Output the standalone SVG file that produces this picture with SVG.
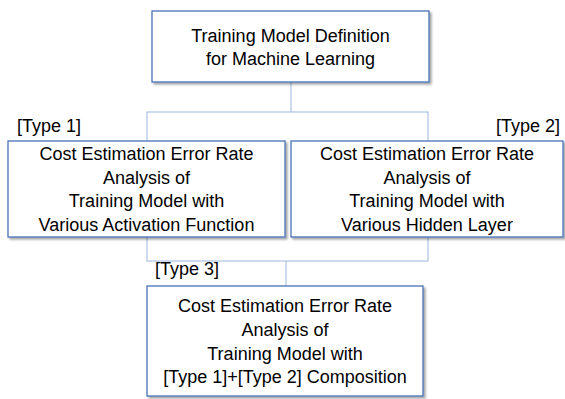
<svg xmlns="http://www.w3.org/2000/svg" width="565" height="399" viewBox="0 0 565 399">
<defs>
<filter id="sh" x="-5%" y="-5%" width="115%" height="120%">
<feDropShadow dx="2" dy="2" stdDeviation="1.2" flood-color="#000" flood-opacity="0.35"/>
</filter>
</defs>
<style>
.box{fill:#fff;stroke:#4a72b8;stroke-width:1.3;filter:url(#sh)}
.con{fill:none;stroke:#9db5dc;stroke-width:1}
text{font-family:"Liberation Sans",Arial,sans-serif;font-size:18px;fill:#000}
.c{text-anchor:middle}
</style>
<g id="connectors">
<line class="con" x1="291" y1="82" x2="291" y2="112"/>
<rect class="con" x="147" y="112" width="281" height="149"/>
<line class="con" x1="286" y1="261" x2="286" y2="286"/>
</g>
<g id="root">
<rect class="box" x="152" y="11" width="277" height="71"/>
<text class="c" x="290.5" y="42">Training Model Definition</text>
<text class="c" x="290.5" y="65">for Machine Learning</text>
</g>
<g id="type1">
<text x="17" y="132">[Type 1]</text>
<rect class="box" x="8" y="141" width="277" height="96"/>
<text class="c" x="146.5" y="160">Cost Estimation Error Rate</text>
<text class="c" x="146.5" y="183.5">Analysis of</text>
<text class="c" x="146.5" y="207">Training Model with</text>
<text class="c" x="146.5" y="231">Various Activation Function</text>
</g>
<g id="type2">
<text x="560" y="132" text-anchor="end">[Type 2]</text>
<rect class="box" x="291" y="141" width="272" height="96"/>
<text class="c" x="427" y="160">Cost Estimation Error Rate</text>
<text class="c" x="427" y="183.5">Analysis of</text>
<text class="c" x="427" y="207">Training Model with</text>
<text class="c" x="427" y="231">Various Hidden Layer</text>
</g>
<g id="type3">
<text x="155" y="275">[Type 3]</text>
<rect class="box" x="147" y="286" width="276" height="110"/>
<text class="c" x="285" y="312">Cost Estimation Error Rate</text>
<text class="c" x="285" y="336">Analysis of</text>
<text class="c" x="285" y="359.5">Training Model with</text>
<text class="c" x="285" y="383">[Type 1]+[Type 2] Composition</text>
</g>
</svg>
